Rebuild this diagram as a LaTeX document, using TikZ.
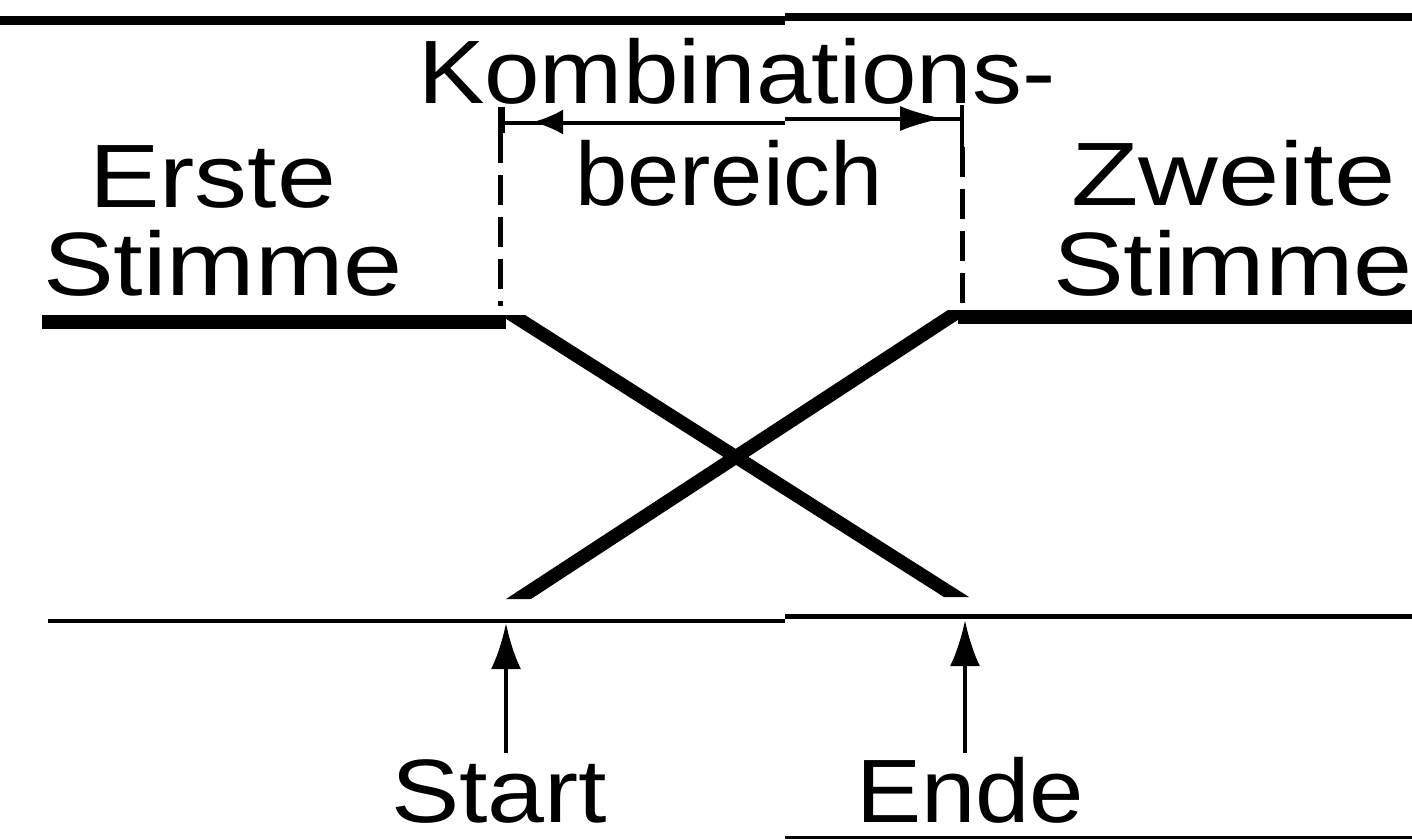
\documentclass[tikz,border=0pt]{standalone}
\usepackage{fontspec}
\setmainfont{Liberation Sans}
\usetikzlibrary{arrows.meta}
\begin{document}
\begin{tikzpicture}[x=1pt,y=-1pt,
  lbl/.style={anchor=base west, inner sep=0pt, outer sep=0pt, font=\fontsize{90}{90}\selectfont},
  rule/.style={line width=#1},
  dashline/.style={line width=5pt, dash pattern=on 30pt off 12pt},
  upar/.style={line width=4.5pt, -{Latex[length=46pt,width=30pt]}},
  dimtip/.style={line width=3pt, -{Latex[length=#1,width=25pt]}}
]
\useasboundingbox (0,0) rectangle (1412,839);
% --- frame lines
\draw[rule=9pt] (0,20) coordinate (tl1) -- (785,20) coordinate (tl2);
\draw[rule=8pt] (785,16.5) coordinate (tr1) -- (1412,16.5) coordinate (tr2);
\draw[rule=4pt] (48,621) coordinate (bl1) -- (785,621) coordinate (bl2);
\draw[rule=5pt] (785,616.5) coordinate (br1) -- (1412,616.5) coordinate (br2);
\draw[rule=3pt] (785,837) coordinate (bb1) -- (1412,837) coordinate (bb2);
% --- voices
\draw[rule=14pt] (42,322) coordinate (v1a) -- (506,322) coordinate (v1b);
\draw[rule=14pt] (958,317) coordinate (v2a) -- (1412,317) coordinate (v2b);
\fill (500,315) -- (525,315) -- (969,597) -- (944,597) -- cycle;
\fill (948,310) -- (973,310) -- (531,599) -- (506,599) -- cycle;
% --- combination range
\coordinate (dl) at (501,123);
\coordinate (dr) at (962,118.5);
\draw[rule=7pt] (501,107) -- (501,133);
\draw[rule=4pt] (962,105) -- (962,147);
\draw[rule=4pt] (dl) -- (785,123);
\draw[rule=4pt] (785,118.5) -- (dr);
\draw[dimtip=30pt] (566,122) -- (533,122);
\draw[dimtip=43pt] (890,118.5) -- (943,118.5);
\draw[dashline] (500,133) -- (500,306);
\draw[dashline] (962,147) -- (962,311);
% --- texts
\node[lbl] (komb) at (418,103) {\scalebox{1.108}[1]{Kombinations-}};
\node[lbl] (erste) at (89,207) {\scalebox{1.176}[1]{Erste}};
\node[lbl] (stimme1) at (43,295) {\scalebox{1.18}[1]{Stimme}};
\node[lbl] (bereich) at (575,205) {\scalebox{1.044}[1]{bereich}};
\node[lbl] (zweite) at (1071,205) {\scalebox{1.226}[1]{Zweite}};
\node[lbl] (stimme2) at (1053,295) {\scalebox{1.18}[1]{Stimme}};
\node[lbl, text depth=0pt] (start) at (391,822) {\scalebox{1.137}[1]{Start}};
\node[lbl, text depth=0pt] (ende) at (856,822) {\scalebox{1.086}[1]{Ende}};
% --- arrows
\coordinate (s0) at (506,753);
\coordinate (s1) at (506,623);
\coordinate (e0) at (965,753);
\coordinate (e1) at (965,620);
\draw[upar] (s0) -- (s1);
\draw[upar] (e0) -- (e1);
\end{tikzpicture}
\end{document}
